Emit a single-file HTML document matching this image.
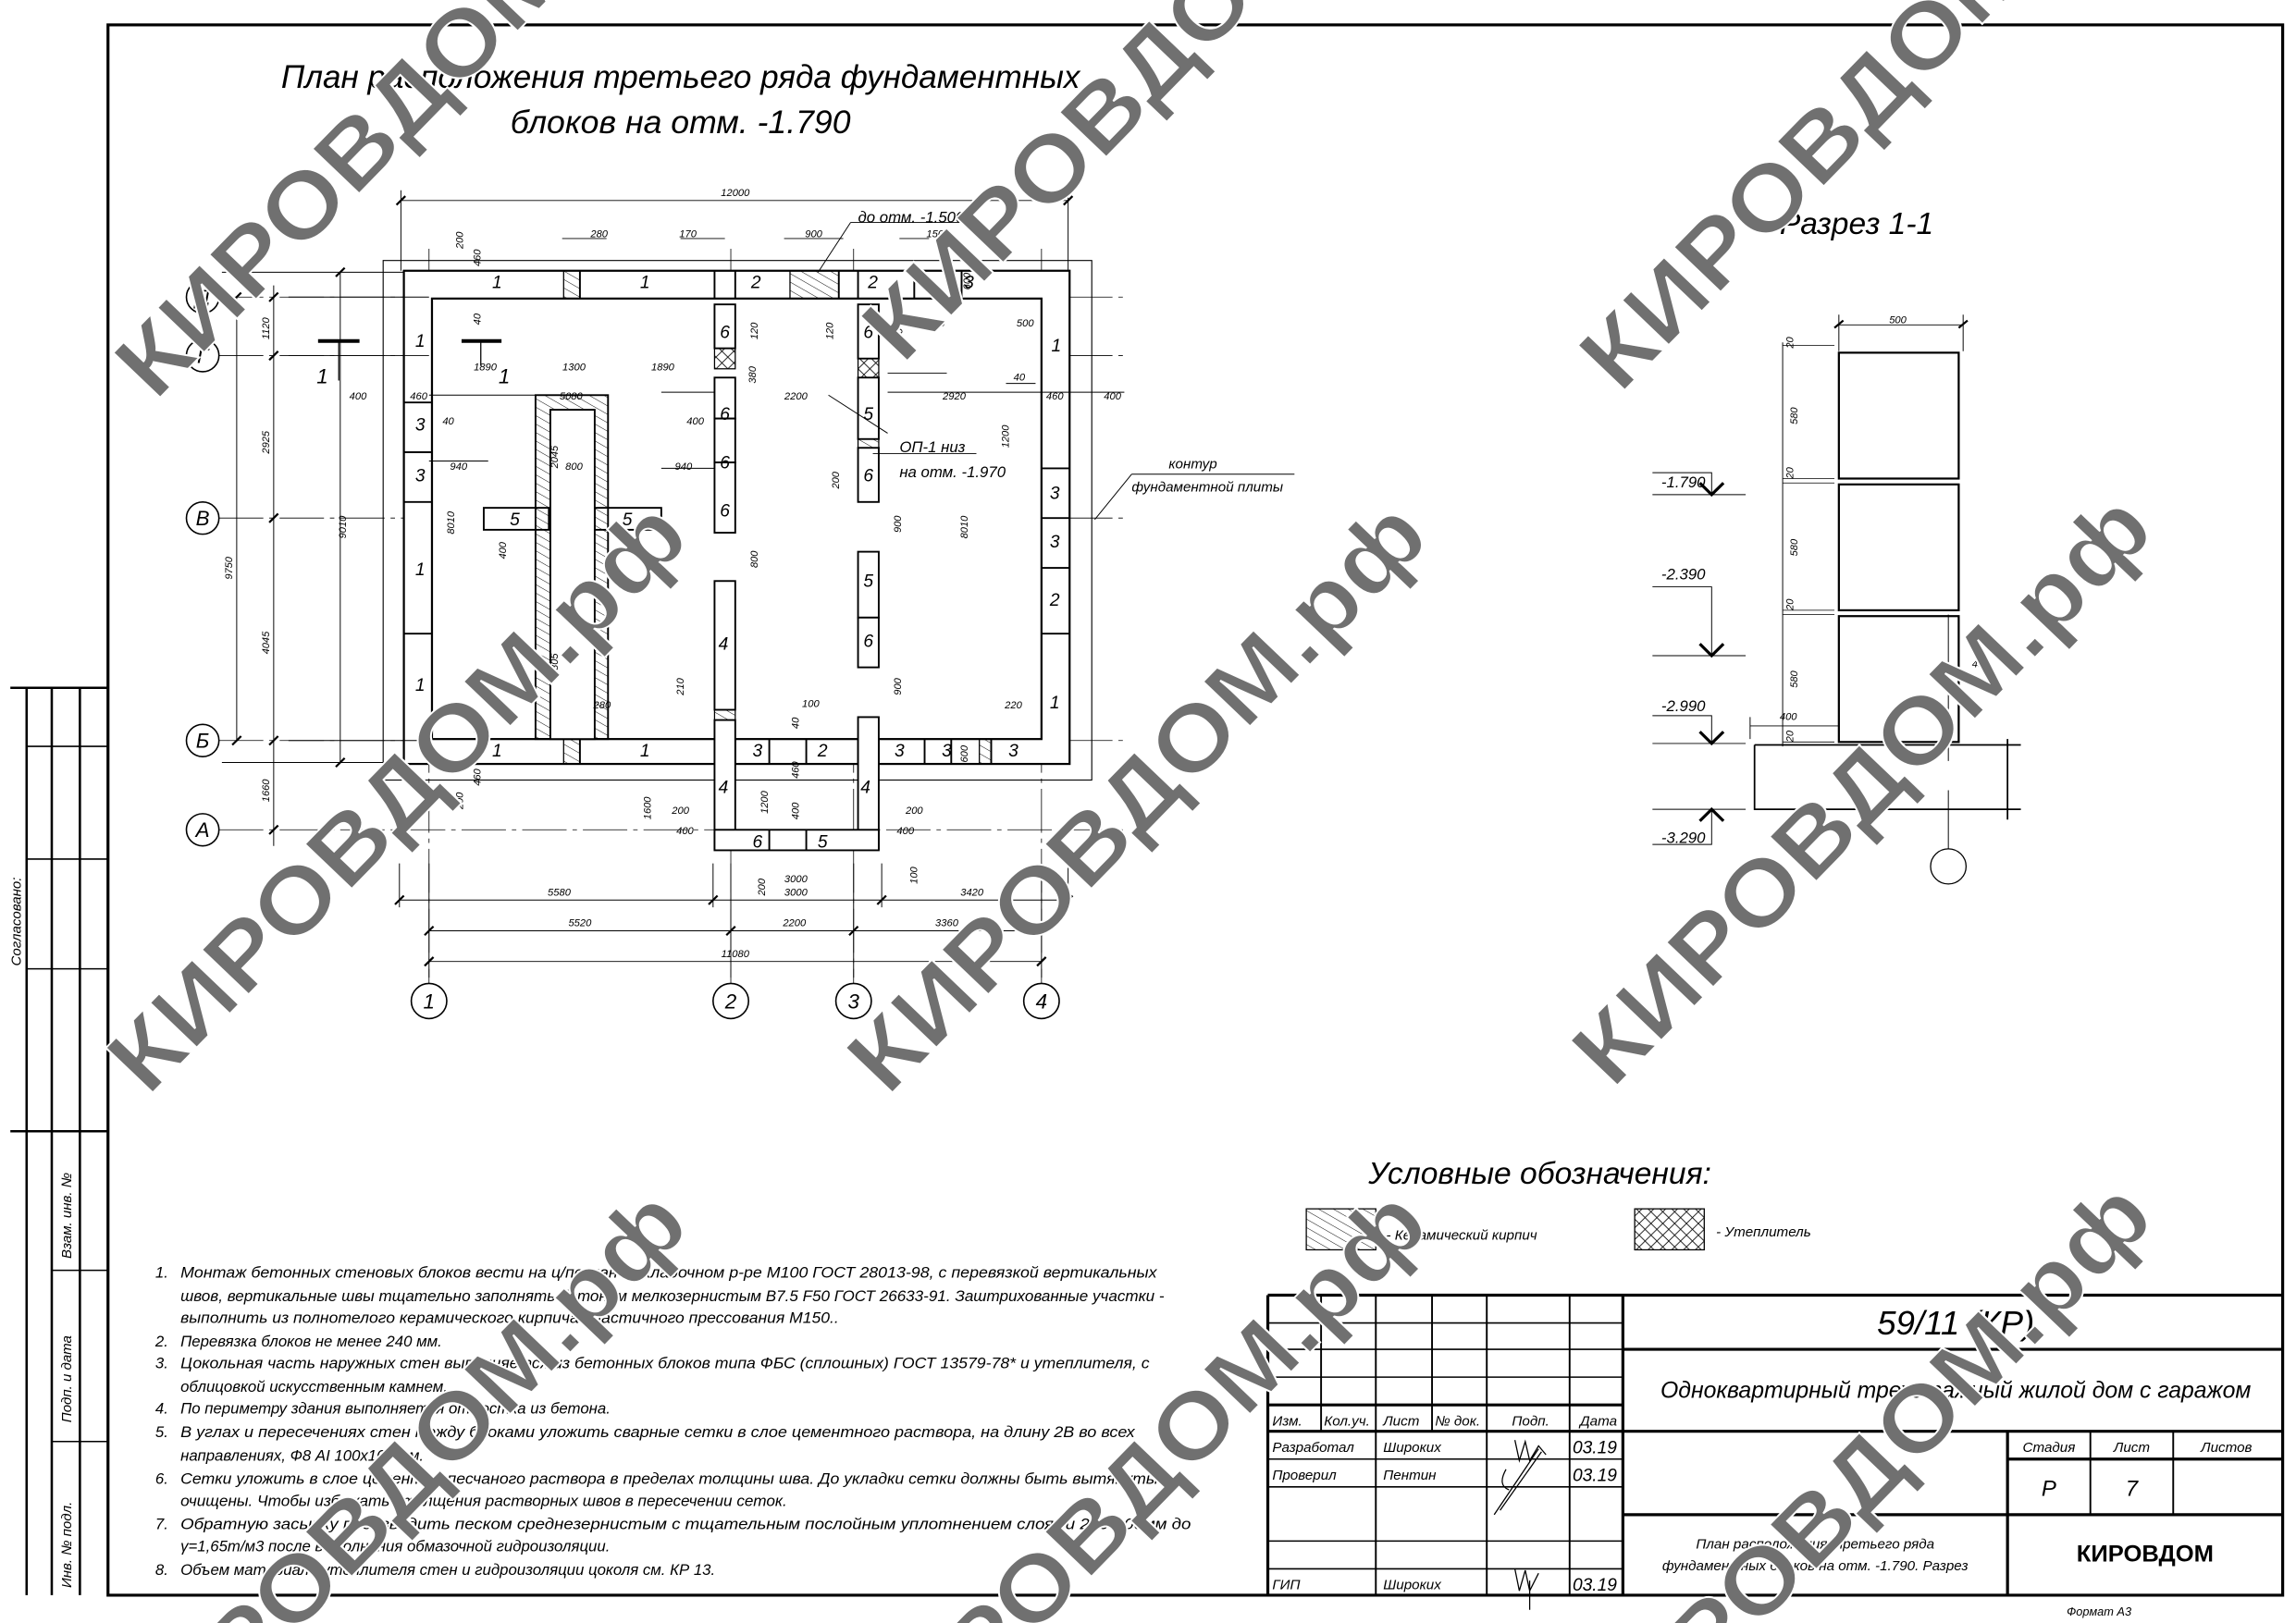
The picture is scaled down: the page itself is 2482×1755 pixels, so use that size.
<!DOCTYPE html>
<html><head><meta charset="utf-8"><style>
html,body{margin:0;padding:0;background:#fff;overflow:hidden;width:2482px;height:1755px;}
svg{display:block;}
text{font-family:"Liberation Sans",sans-serif;font-style:italic;fill:#000;}
.t7{font-size:7px}.t8{font-size:8px}.t9{font-size:9.5px}.t10{font-size:10.5px}
.wm text{font-family:"Liberation Sans",sans-serif;font-style:normal;font-weight:bold;font-size:64px;fill:#707070;stroke:#fff;stroke-width:1.2;}
</style></head><body>
<svg width="2482" height="1755" viewBox="0 0 1552 1109" preserveAspectRatio="none" xmlns="http://www.w3.org/2000/svg" overflow="hidden">
<defs>
<pattern id="h1" patternUnits="userSpaceOnUse" width="5" height="5" patternTransform="rotate(-60)"><line x1="0" y1="0" x2="0" y2="5" stroke="#000" stroke-width="0.6"/></pattern>
<pattern id="h2" patternUnits="userSpaceOnUse" width="8" height="8"><path d="M0 0L8 8M8 0L0 8" stroke="#000" stroke-width="0.5"/></pattern>
<clipPath id="cl"><rect x="0" y="0" width="1552" height="1109"/></clipPath>
</defs>
<rect width="1552" height="1109" fill="#fff"/>
<rect x="73" y="17" width="1470" height="1073" fill="none" stroke="#000" stroke-width="2"/>
<g stroke="#000" fill="none" stroke-width="1">
<path d="M7 470H73M7 773H73M18 470V1090M35 470V1090M54 470V1090" stroke-width="1.6"/>
<path d="M18 510H73M18 587H73M18 662H73M35 868H73M35 985H73"/>
</g>
<text class="t9" transform="translate(14,660) rotate(-90)">Согласовано:</text>
<text class="t9" transform="translate(48,860) rotate(-90)">Взам. инв. №</text>
<text class="t9" transform="translate(48,972) rotate(-90)">Подп. и дата</text>
<text class="t9" transform="translate(48,1085) rotate(-90)">Инв. № подл.</text>

<text x="460" y="60" text-anchor="middle" style="font-size:22px" textLength="540" lengthAdjust="spacingAndGlyphs">План расположения третьего ряда фундаментных</text>
<text x="460" y="91" text-anchor="middle" style="font-size:22px" textLength="230" lengthAdjust="spacingAndGlyphs">блоков на отм. -1.790</text>

<g stroke="#000" stroke-width="0.5" stroke-dasharray="30,4,3,4" fill="none">
<path d="M148 203H760M148 243H760M148 354H760M148 506H760M148 567H760"/>
<path d="M290 170V673M494 170V673M577 170V673M704 170V673"/>
</g>
<g fill="#fff" stroke="#000" stroke-width="1">
<circle cx="137" cy="203" r="11"/><circle cx="137" cy="243" r="11"/><circle cx="137" cy="354" r="11"/><circle cx="137" cy="506" r="11"/><circle cx="137" cy="567" r="11"/>
<circle cx="290" cy="684" r="12"/><circle cx="494" cy="684" r="12"/><circle cx="577" cy="684" r="12"/><circle cx="704" cy="684" r="12"/>
</g>
<g style="font-size:14px" text-anchor="middle">
<text x="137" y="208">Д</text><text x="137" y="248">Г</text><text x="137" y="359">В</text><text x="137" y="511">Б</text><text x="137" y="572">А</text>
<text x="290" y="689">1</text><text x="494" y="689">2</text><text x="577" y="689">3</text><text x="704" y="689">4</text>
</g>

<rect x="259" y="178" width="479" height="355" fill="none" stroke="#000" stroke-width="0.7"/>
<g fill="#fff" stroke="#000" stroke-width="1.4">
<rect x="273" y="185" width="450" height="337"/>
<rect x="292" y="204" width="412" height="301"/>
</g>
<g fill="url(#h1)" stroke="#000" stroke-width="0.8">
<rect x="381" y="185" width="11" height="19"/><rect x="534" y="185" width="33" height="19"/>
<rect x="381" y="505" width="11" height="17"/><rect x="662" y="505" width="8" height="17"/>
<rect x="483" y="485" width="14" height="7"/><rect x="580" y="300" width="14" height="6"/>
</g>
<g fill="url(#h2)" stroke="#000" stroke-width="0.8">
<rect x="483" y="238" width="14" height="14"/><rect x="580" y="245" width="14" height="13"/>
</g>
<g stroke="#000" stroke-width="1.2" fill="none">
<path d="M392 185V204M483 185V204M497 185V204M567 185V204M580 185V204M618 185V204M650 185V204"/>
<path d="M392 505V522M483 505V522M497 505V522M520 505V522M545 505V522M580 505V522M594 505V522M625 505V522M643 505V522M670 505V522"/>
<path d="M273 275H292M273 309H292M273 343H292M273 433H292"/>
<path d="M704 320H723M704 354H723M704 388H723M704 433H723"/>
</g>
<g fill="#fff" stroke="#000" stroke-width="1.2">
<rect x="483" y="208" width="14" height="30"/><rect x="483" y="258" width="14" height="28"/><rect x="483" y="286" width="14" height="30"/><rect x="483" y="316" width="14" height="48"/>
<rect x="483" y="397" width="14" height="88"/><rect x="483" y="492" width="14" height="88"/>
<rect x="580" y="208" width="14" height="37"/><rect x="580" y="258" width="14" height="42"/><rect x="580" y="306" width="14" height="37"/>
<rect x="580" y="377" width="14" height="45"/><rect x="580" y="422" width="14" height="34"/><rect x="580" y="490" width="14" height="90"/>
<rect x="483" y="567" width="111" height="14"/>
<rect x="327" y="347" width="44" height="15"/><rect x="402" y="347" width="45" height="15"/>
<rect x="362" y="270" width="49" height="235" fill="url(#h1)"/>
<rect x="372" y="280" width="30" height="225"/>
</g>
<path d="M520 567V581M545 567V581" stroke="#000" stroke-width="1.2"/>
<g text-anchor="middle" style="font-size:12px">
<text x="336" y="197">1</text><text x="436" y="197">1</text><text x="511" y="197">2</text><text x="590" y="197">2</text><text x="655" y="197">3</text>
<text x="284" y="237">1</text><text x="284" y="294">3</text><text x="284" y="329">3</text><text x="284" y="393">1</text><text x="284" y="472">1</text>
<text x="714" y="240">1</text><text x="713" y="341">3</text><text x="713" y="374">3</text><text x="713" y="414">2</text><text x="713" y="484">1</text>
<text x="336" y="517">1</text><text x="436" y="517">1</text><text x="512" y="517">3</text><text x="556" y="517">2</text><text x="608" y="517">3</text><text x="640" y="517">3</text><text x="685" y="517">3</text>
<text x="490" y="231">6</text><text x="490" y="287">6</text><text x="490" y="320">6</text><text x="490" y="353">6</text><text x="489" y="444">4</text><text x="489" y="542">4</text>
<text x="587" y="231">6</text><text x="587" y="287">5</text><text x="587" y="329">6</text><text x="587" y="401">5</text><text x="587" y="442">6</text><text x="585" y="542">4</text>
<text x="512" y="579">6</text><text x="556" y="579">5</text><text x="348" y="359">5</text><text x="424" y="359">5</text>
</g>
<path d="M215 233H243M312 233H339" stroke="#000" stroke-width="2.5"/>
<path d="M229 233V260M325 233V250" stroke="#000" stroke-width="0.8"/>
<text x="214" y="262" style="font-size:14px">1</text><text x="337" y="262" style="font-size:14px">1</text>

<g stroke="#000" stroke-width="0.6" fill="none">
<path d="M271 137H722M271 130V185M722 130V185"/>
<path d="M185 195V578M160 203V506M230 186V521"/>
<path d="M270 615H722M290 636H704M290 657H704"/>
<path d="M290 590V668M704 590V668M494 590V668M577 590V668M270 590V620M482 590V620M596 590V620M722 590V620"/>
<path d="M195 203H290M195 243H290M195 506H290M150 186H273M150 521H273"/>
<path d="M380 163H410M460 163H490M530 163H570M608 163H628M575 152H660M553 186L575 152"/>
<path d="M290 270H362M447 268H483M600 268H704M660 268H760M600 296L560 270M590 310H660"/>
<path d="M290 315H330M447 320H483M600 255H640M680 262H700"/>
<path d="M765 324H875M740 355L765 324"/>
</g>
<g stroke="#000" stroke-width="1.4">
<path d="M268 140L274 134M719 140L725 134M182 206L188 200M182 246L188 240M182 357L188 351M182 509L188 503M182 570L188 564M157 206L163 200M157 509L163 503M227 189L233 183M227 524L233 518"/>
<path d="M267 618L273 612M479 618L485 612M593 618L599 612M719 618L725 612M287 639L293 633M491 639L497 633M574 639L580 633M701 639L707 633M287 660L293 654M701 660L707 654"/>
</g>
<g class="t7" text-anchor="middle">
<text x="497" y="134">12000</text><text x="405" y="162">280</text><text x="465" y="162">170</text><text x="550" y="162">900</text><text x="632" y="162">150</text>
<text x="378" y="612">5580</text><text x="538" y="612">3000</text><text x="657" y="612">3420</text>
<text x="392" y="633">5520</text><text x="537" y="633">2200</text><text x="640" y="633">3360</text>
<text x="497" y="654">11080</text>
<text x="242" y="273">400</text><text x="283" y="273">460</text><text x="328" y="253">1890</text><text x="388" y="253">1300</text><text x="448" y="253">1890</text>
<text x="386" y="273">5080</text><text x="538" y="273">2200</text><text x="645" y="273">2920</text><text x="713" y="273">460</text><text x="752" y="273">400</text>
<text x="303" y="290">40</text><text x="310" y="321">940</text><text x="388" y="321">800</text><text x="462" y="321">940</text><text x="470" y="290">400</text>
<text x="633" y="223">900</text><text x="693" y="223">500</text><text x="689" y="260">40</text><text x="407" y="484">280</text><text x="685" y="484">220</text><text x="548" y="483">100</text>
<text x="460" y="556">200</text><text x="463" y="570">400</text><text x="618" y="556">200</text><text x="612" y="570">400</text><text x="538" y="603">3000</text>
</g>
<g class="t7">
<text transform="translate(182,232) rotate(-90)">1120</text><text transform="translate(182,310) rotate(-90)">2925</text>
<text transform="translate(182,447) rotate(-90)">4045</text><text transform="translate(182,548) rotate(-90)">1660</text>
<text transform="translate(157,396) rotate(-90)">9750</text><text transform="translate(234,368) rotate(-90)">9010</text>
<text transform="translate(313,170) rotate(-90)">200</text><text transform="translate(325,182) rotate(-90)">460</text>
<text transform="translate(325,222) rotate(-90)">40</text><text transform="translate(307,365) rotate(-90)">8010</text>
<text transform="translate(377,320) rotate(-90)">2045</text><text transform="translate(377,462) rotate(-90)">3805</text>
<text transform="translate(342,382) rotate(-90)">400</text><text transform="translate(512,232) rotate(-90)">120</text>
<text transform="translate(563,232) rotate(-90)">120</text><text transform="translate(511,262) rotate(-90)">380</text>
<text transform="translate(610,236) rotate(-90)">360</text><text transform="translate(567,334) rotate(-90)">200</text>
<text transform="translate(512,388) rotate(-90)">800</text><text transform="translate(609,364) rotate(-90)">900</text>
<text transform="translate(609,475) rotate(-90)">900</text><text transform="translate(654,368) rotate(-90)">8010</text>
<text transform="translate(682,306) rotate(-90)">1200</text><text transform="translate(462,475) rotate(-90)">210</text>
<text transform="translate(313,553) rotate(-90)">200</text><text transform="translate(325,537) rotate(-90)">460</text>
<text transform="translate(325,503) rotate(-90)">40</text><text transform="translate(440,560) rotate(-90)">1600</text>
<text transform="translate(519,556) rotate(-90)">1200</text><text transform="translate(540,560) rotate(-90)">400</text>
<text transform="translate(540,532) rotate(-90)">460</text><text transform="translate(540,498) rotate(-90)">40</text>
<text transform="translate(517,612) rotate(-90)">200</text><text transform="translate(620,604) rotate(-90)">100</text>
<text transform="translate(654,521) rotate(-90)">600</text><text transform="translate(656,198) rotate(-90)">600</text>
</g>
<text x="580" y="152" class="t10">до отм. -1.500</text>
<text x="608" y="309" class="t10">ОП-1 низ</text><text x="608" y="326" class="t10">на отм. -1.970</text>
<text x="790" y="320" class="t9">контур</text><text x="765" y="336" class="t9">фундаментной плиты</text>

<text x="1255" y="160" style="font-size:21px" text-anchor="middle">Разрез 1-1</text>
<g stroke="#000" fill="none">
<rect x="1243" y="241" width="81" height="86" stroke-width="1.4"/>
<rect x="1243" y="331" width="81" height="86" stroke-width="1.4"/>
<rect x="1243" y="421" width="81" height="86" stroke-width="1.4"/>
<path d="M1186 509H1366M1186 509V553H1366M1357 505V560" stroke-width="1.1"/>
<path d="M1243 222H1327M1243 215V240M1327 215V240M1205 234V510M1183 496H1243M1183 490V505" stroke-width="0.6"/>
<path d="M1205 236H1240M1205 327H1240M1205 330H1240M1205 417H1240M1205 420H1240M1205 507H1240" stroke-width="0.5"/>
<path d="M1117 338H1180M1117 448H1180M1117 508H1180M1117 553H1180M1117 323H1157V338M1117 401H1157V448M1117 489H1157V508M1117 577H1157V553" stroke-width="0.6"/>
<path d="M1149 330L1157 338L1165 330M1149 440L1157 448L1165 440M1149 500L1157 508L1165 500M1149 561L1157 553L1165 561" stroke-width="2"/>
<path d="M1317 420V520M1317 540V580" stroke-width="0.6"/>
<circle cx="1317" cy="592" r="12" stroke-width="0.8"/>
<path d="M1240 224L1246 219M1324 224L1330 219" stroke-width="1.4"/>
</g>
<g class="t10"><text x="1123" y="333">-1.790</text><text x="1123" y="396">-2.390</text><text x="1123" y="486">-2.990</text><text x="1123" y="576">-3.290</text></g>
<g class="t7"><text x="1277" y="221">500</text><text x="1203" y="492">400</text><text x="1333" y="456">40</text>
<text transform="translate(1212,238) rotate(-90)">20</text><text transform="translate(1215,290) rotate(-90)">580</text>
<text transform="translate(1212,327) rotate(-90)">20</text><text transform="translate(1215,380) rotate(-90)">580</text>
<text transform="translate(1212,417) rotate(-90)">20</text><text transform="translate(1215,470) rotate(-90)">580</text>
<text transform="translate(1212,507) rotate(-90)">20</text></g>

<text x="925" y="809" style="font-size:21px">Условные обозначения:</text>
<rect x="883" y="826" width="47" height="28" fill="url(#h1)" stroke="#000" stroke-width="0.8"/>
<text x="937" y="847" class="t9">- Керамический кирпич</text>
<rect x="1105" y="826" width="47" height="28" fill="url(#h2)" stroke="#000" stroke-width="0.8"/>
<text x="1160" y="845" class="t9">- Утеплитель</text>

<g class="t10">
<text x="105" y="873">1.</text><text x="122" y="873" textLength="660" lengthAdjust="spacingAndGlyphs">Монтаж бетонных стеновых блоков вести на ц/песчаном кладочном р-ре М100 ГОСТ 28013-98, с перевязкой вертикальных</text>
<text x="122" y="889" textLength="665" lengthAdjust="spacingAndGlyphs">швов, вертикальные швы тщательно заполнять бетоном мелкозернистым В7.5 F50 ГОСТ 26633-91. Заштрихованные участки -</text>
<text x="122" y="904" textLength="445" lengthAdjust="spacingAndGlyphs">выполнить из полнотелого керамического кирпича пластичного прессования М150..</text>
<text x="105" y="920">2.</text><text x="122" y="920">Перевязка блоков не менее 240 мм.</text>
<text x="105" y="935">3.</text><text x="122" y="935" textLength="655" lengthAdjust="spacingAndGlyphs">Цокольная часть наружных стен выполняется из бетонных блоков типа ФБС (сплошных) ГОСТ 13579-78* и утеплителя, с</text>
<text x="122" y="951">облицовкой искусственным камнем.</text>
<text x="105" y="966">4.</text><text x="122" y="966">По периметру здания выполняется отмостка из бетона.</text>
<text x="105" y="982">5.</text><text x="122" y="982" textLength="645" lengthAdjust="spacingAndGlyphs">В углах и пересечениях стен между блоками уложить сварные сетки в слое цементного раствора, на длину 2В во всех</text>
<text x="122" y="998">направлениях, Ф8 AI 100х100 мм.</text>
<text x="105" y="1014">6.</text><text x="122" y="1014" textLength="670" lengthAdjust="spacingAndGlyphs">Сетки уложить в слое цементно-песчаного раствора в пределах толщины шва. До укладки сетки должны быть вытянуты и</text>
<text x="122" y="1029" textLength="410" lengthAdjust="spacingAndGlyphs">очищены. Чтобы избежать утолщения растворных швов в пересечении сеток.</text>
<text x="105" y="1045">7.</text><text x="122" y="1045" textLength="683" lengthAdjust="spacingAndGlyphs">Обратную засыпку производить песком среднезернистым с тщательным послойным уплотнением слоями 200-300мм до</text>
<text x="122" y="1060">γ=1,65т/м3 после выполнения обмазочной гидроизоляции.</text>
<text x="105" y="1076">8.</text><text x="122" y="1076">Объем материала утеплителя стен и гидроизоляции цоколя см. КР 13.</text>
</g>

<g stroke="#000" fill="none">
<path d="M857 885H1543M857 885V1090M1097 885V1090" stroke-width="2"/>
<path d="M857 904H1097M857 922H1097M857 941H1097M857 997H1097M857 1016H1097M857 1053H1097M857 1072H1097" stroke-width="1"/>
<path d="M857 960H1097M857 978H1543M1097 922H1543M1097 1035H1543M1357 978V1090M1357 997H1543" stroke-width="2"/>
<path d="M893 885V978M968 885V978M930 885V1090M1005 885V1090M1061 885V1090M1413 978V1035M1469 978V1035" stroke-width="1.2"/>
</g>
<g class="t9">
<text x="860" y="974">Изм.</text><text x="895" y="974">Кол.уч.</text><text x="935" y="974">Лист</text><text x="970" y="974">№ док.</text><text x="1022" y="974">Подп.</text><text x="1068" y="974">Дата</text>
<text x="860" y="992">Разработал</text><text x="935" y="992">Широких</text><text x="1063" y="993" style="font-size:12px">03.19</text>
<text x="860" y="1011">Проверил</text><text x="935" y="1011">Пентин</text><text x="1063" y="1012" style="font-size:12px">03.19</text>
<text x="860" y="1086">ГИП</text><text x="935" y="1086">Широких</text><text x="1063" y="1087" style="font-size:12px">03.19</text>
<text x="1385" y="992" text-anchor="middle">Стадия</text><text x="1441" y="992" text-anchor="middle">Лист</text><text x="1505" y="992" text-anchor="middle">Листов</text>
</g>
<path d="M1024 984L1027 998L1031 985L1034 998L1040 988L1045 994M1040 990L1010 1035M1042 992L1014 1032M1018 1004Q1012 1015 1020 1018M1024 1072L1027 1087L1031 1073L1034 1087L1040 1075M1034 1080V1100" stroke="#000" stroke-width="0.8" fill="none"/>
<text x="1322" y="912" text-anchor="middle" style="font-size:23px">59/11 (КР)</text>
<text x="1322" y="955" text-anchor="middle" style="font-size:15.5px">Одноквартирный трехэтажный жилой дом с гаражом</text>
<text x="1385" y="1022" text-anchor="middle" style="font-size:15px">Р</text><text x="1441" y="1022" text-anchor="middle" style="font-size:15px">7</text>
<text x="1227" y="1058" text-anchor="middle" class="t9">План расположения третьего ряда</text>
<text x="1227" y="1073" text-anchor="middle" class="t9">фундаментных блоков на отм. -1.790. Разрез</text>
<text x="1450" y="1067" text-anchor="middle" style="font-size:16px;font-style:normal;font-weight:bold">КИРОВДОМ</text>
<text x="1397" y="1104" class="t8">Формат А3</text>

<g class="wm" clip-path="url(#cl)">
<text transform="translate(105,275) rotate(-46)" textLength="530" lengthAdjust="spacingAndGlyphs">КИРОВДОМ.рф</text>
<text transform="translate(610,250) rotate(-46)" textLength="530" lengthAdjust="spacingAndGlyphs">КИРОВДОМ.рф</text>
<text transform="translate(1095,270) rotate(-46)" textLength="530" lengthAdjust="spacingAndGlyphs">КИРОВДОМ.рф</text>
<text transform="translate(100,750) rotate(-46)" textLength="530" lengthAdjust="spacingAndGlyphs">КИРОВДОМ.рф</text>
<text transform="translate(600,750) rotate(-46)" textLength="530" lengthAdjust="spacingAndGlyphs">КИРОВДОМ.рф</text>
<text transform="translate(1090,745) rotate(-46)" textLength="530" lengthAdjust="spacingAndGlyphs">КИРОВДОМ.рф</text>
<text transform="translate(100,1220) rotate(-46)" textLength="530" lengthAdjust="spacingAndGlyphs">КИРОВДОМ.рф</text>
<text transform="translate(600,1220) rotate(-46)" textLength="530" lengthAdjust="spacingAndGlyphs">КИРОВДОМ.рф</text>
<text transform="translate(1090,1215) rotate(-46)" textLength="530" lengthAdjust="spacingAndGlyphs">КИРОВДОМ.рф</text>
</g>
</svg>
</body></html>
